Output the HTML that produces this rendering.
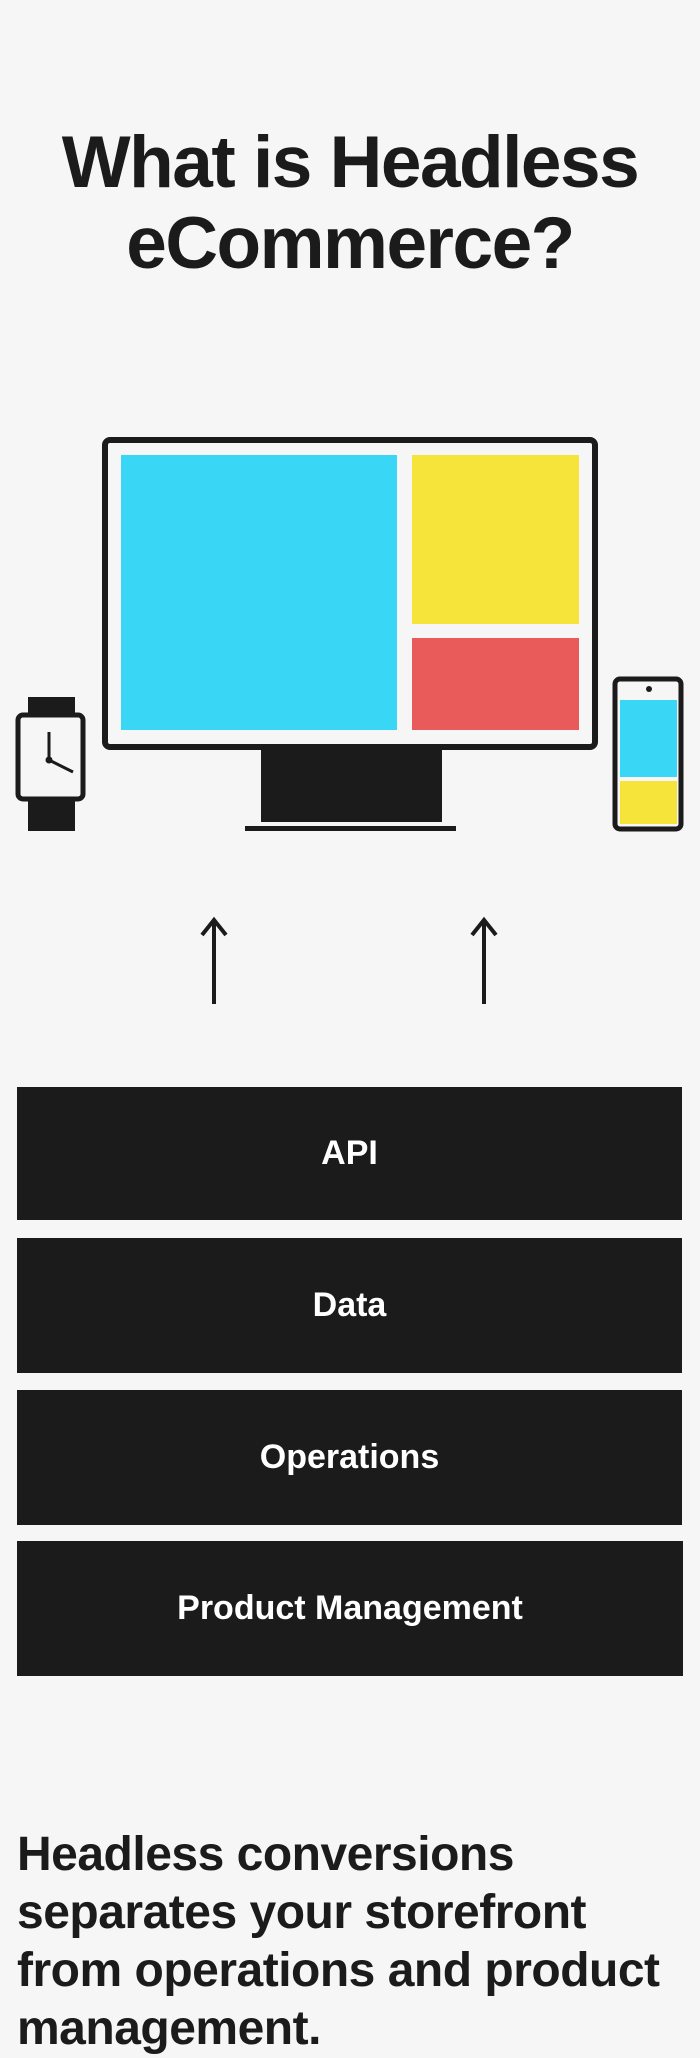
<!DOCTYPE html>
<html><head><meta charset="utf-8"><style>
*{margin:0;padding:0;box-sizing:border-box}
body{width:700px;height:2014px;background:#f6f6f6;position:relative;overflow:hidden;font-family:"Liberation Sans",sans-serif;color:#1b1b1b}
.a{position:absolute}
h1{position:absolute;left:0;width:700px;top:122px;text-align:center;font-size:73px;line-height:81px;font-weight:bold;letter-spacing:-1.5px}
.box{position:absolute;left:17px;width:665px;background:#1b1b1b;color:#fff;font-weight:bold;font-size:34px;display:flex;align-items:center;justify-content:center}
.p{position:absolute;left:17px;top:1826px;font-size:48px;line-height:58px;font-weight:bold;letter-spacing:-0.5px;white-space:nowrap}
</style></head><body>
<h1>What is Headless<br>eCommerce?</h1>
<svg class="a" style="left:0;top:0" width="700" height="1100">
<rect x="105" y="440" width="490" height="307" rx="5" fill="none" stroke="#1b1b1b" stroke-width="6"/>
<rect x="121" y="455" width="276" height="275" fill="#3ad6f5"/>
<rect x="412" y="455" width="167" height="169" fill="#f7e43a"/>
<rect x="412" y="638" width="167" height="92" fill="#e95a5a"/>
<rect x="261" y="750" width="181" height="72" fill="#1b1b1b"/>
<rect x="245" y="826" width="211" height="5" fill="#1b1b1b"/>
<rect x="28" y="697" width="47" height="16" fill="#1b1b1b"/>
<rect x="28" y="801" width="47" height="30" fill="#1b1b1b"/>
<rect x="18" y="715" width="65" height="84" rx="5" fill="none" stroke="#1b1b1b" stroke-width="5"/>
<line x1="49" y1="732" x2="49" y2="758" stroke="#1b1b1b" stroke-width="3"/>
<line x1="49" y1="760" x2="73" y2="772" stroke="#1b1b1b" stroke-width="3"/>
<circle cx="49" cy="760" r="3.5" fill="#1b1b1b"/>
<rect x="615" y="679" width="66" height="150" rx="5" fill="none" stroke="#1b1b1b" stroke-width="5"/>
<circle cx="649" cy="689" r="3" fill="#1b1b1b"/>
<rect x="620" y="700" width="57" height="77" fill="#3ad6f5"/>
<rect x="620" y="781" width="57" height="43" fill="#f7e43a"/>
<g stroke="#1b1b1b" stroke-width="4" fill="none">
<line x1="214" y1="922" x2="214" y2="1004"/><polyline points="202,935 214,920 226,935"/>
<line x1="484" y1="922" x2="484" y2="1004"/><polyline points="472,935 484,920 496,935"/>
</g>
</svg>
<div class="box" style="top:1087px;height:133px">API</div>
<div class="box" style="top:1238px;height:135px">Data</div>
<div class="box" style="top:1390px;height:135px">Operations</div>
<div class="box" style="top:1541px;height:135px;width:666px">Product Management</div>
<div class="p">Headless conversions<br>separates your storefront<br>from operations and product<br>management.</div>
</body></html>
